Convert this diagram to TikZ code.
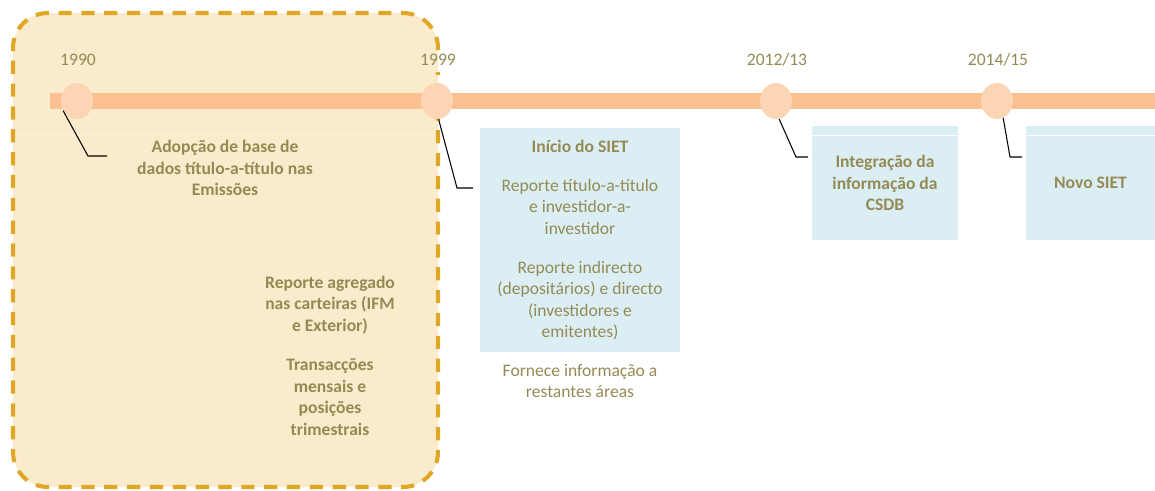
\documentclass[tikz,border=0pt]{standalone}
\usepackage{fontspec}
\setmainfont{Carlito}
\usepackage{tikz}
\usetikzlibrary{shapes}

\definecolor{txtOlive}{HTML}{948A54}
\definecolor{barFill}{HTML}{FAC090}
\definecolor{dotFill}{HTML}{FCD5B5}
\definecolor{boxFill}{HTML}{DBEEF4}
\definecolor{eraFill}{HTML}{F9EBCB}
\definecolor{eraLine}{HTML}{FBF0DA}
\definecolor{eraDash}{HTML}{E0A626}

\begin{document}
\begin{tikzpicture}[x=0.02cm,y=-0.02cm]
\useasboundingbox (0,0) rectangle (1155,490);

% era before SIET
\path[fill=eraFill] (13,13) [rounded corners=0.7cm] rectangle (438,487);
\foreach \yy in {135,262,385}
  \draw[eraLine, line width=0.5pt] (16,\yy) -- (435,\yy);
\draw[eraDash, line width=2.3pt, dash pattern=on 7.5pt off 5.5pt, rounded corners=0.7cm]
  (438,50) -- (438,13) -- (13,13) -- (13,487) -- (438,487) -- (438,72);

% timeline
\fill[barFill] (50,93) rectangle (1155,109);

\begin{scope}[every node/.style={ellipse,fill=dotFill,inner sep=0pt,
                                 minimum width=0.64cm,minimum height=0.72cm}]
  \node (c1990) at (77,101) {};
  \node (c1999) at (437,101) {};
  \node (c2012) at (776,101) {};
  \node (c2014) at (997,101) {};
\end{scope}

\begin{scope}[every node/.style={text=txtOlive,align=center,
                                 font=\fontsize{10}{12.2}\selectfont}]
  \node (y1990) at (78,60) {1990};
  \node (y1999) at (438,60) {1999};
  \node (y2012) at (777,60) {2012/13};
  \node (y2014) at (998,60) {2014/15};

  \node[font=\fontsize{10}{12.2}\selectfont\bfseries] (adop) at (225,168)
    {Adopção de base de\\dados título-a-título nas\\Emissões};
  \node[font=\fontsize{10}{12.2}\selectfont\bfseries] (agreg) at (330,305)
    {Reporte agregado\\nas carteiras (IFM\\e Exterior)};
  \node[font=\fontsize{10}{12.2}\selectfont\bfseries] (trans) at (330,397)
    {Transacções\\mensais e\\posições\\trimestrais};

  \node[fill=boxFill, minimum width=4.02cm, minimum height=4.48cm] (siet) at (580,240)
    {{\bfseries Início do SIET}\\[10pt]
     Reporte título-a-título\\e investidor-a-\\investidor\\[10pt]
     Reporte indirecto\\(depositários) e directo\\(investidores e\\emitentes)};
  \node (forn) at (580,381) {Fornece informação a\\restantes áreas};

  \node[fill=boxFill, minimum width=2.92cm, minimum height=2.28cm,
        font=\fontsize{10}{12.2}\selectfont\bfseries] (csdb) at (885,183)
    {Integração da\\informação da\\CSDB};
  \node[fill=boxFill, minimum width=2.58cm, minimum height=2.28cm,
        font=\fontsize{10}{12.2}\selectfont\bfseries] (novo) at (1090.5,183)
    {Novo SIET};
\end{scope}

\draw[white, line width=0.7pt] ([yshift=-0.2cm]csdb.north west) -- ([yshift=-0.2cm]csdb.north east);
\draw[white, line width=0.7pt] ([yshift=-0.2cm]novo.north west) -- ([yshift=-0.2cm]novo.north east);

% call-out lines
\coordinate (k1990) at (88,156);  \coordinate (e1990) at (107,156);
\coordinate (k1999) at (457,188); \coordinate (e1999) at (473,188);
\coordinate (k2012) at (796,157); \coordinate (e2012) at (808,157);
\coordinate (k2014) at (1010,157); \coordinate (e2014) at (1022,157);

\begin{scope}[every path/.style={draw=black, line width=0.6pt}]
  \path (c1990.215) -- (k1990) -- (e1990);
  \path (c1999.-85) -- (k1999) -- (e1999);
  \path (c2012.-80) -- (k2012) -- (e2012);
  \path (c2014.-70) -- (k2014) -- (e2014);
\end{scope}

\end{tikzpicture}
\end{document}
